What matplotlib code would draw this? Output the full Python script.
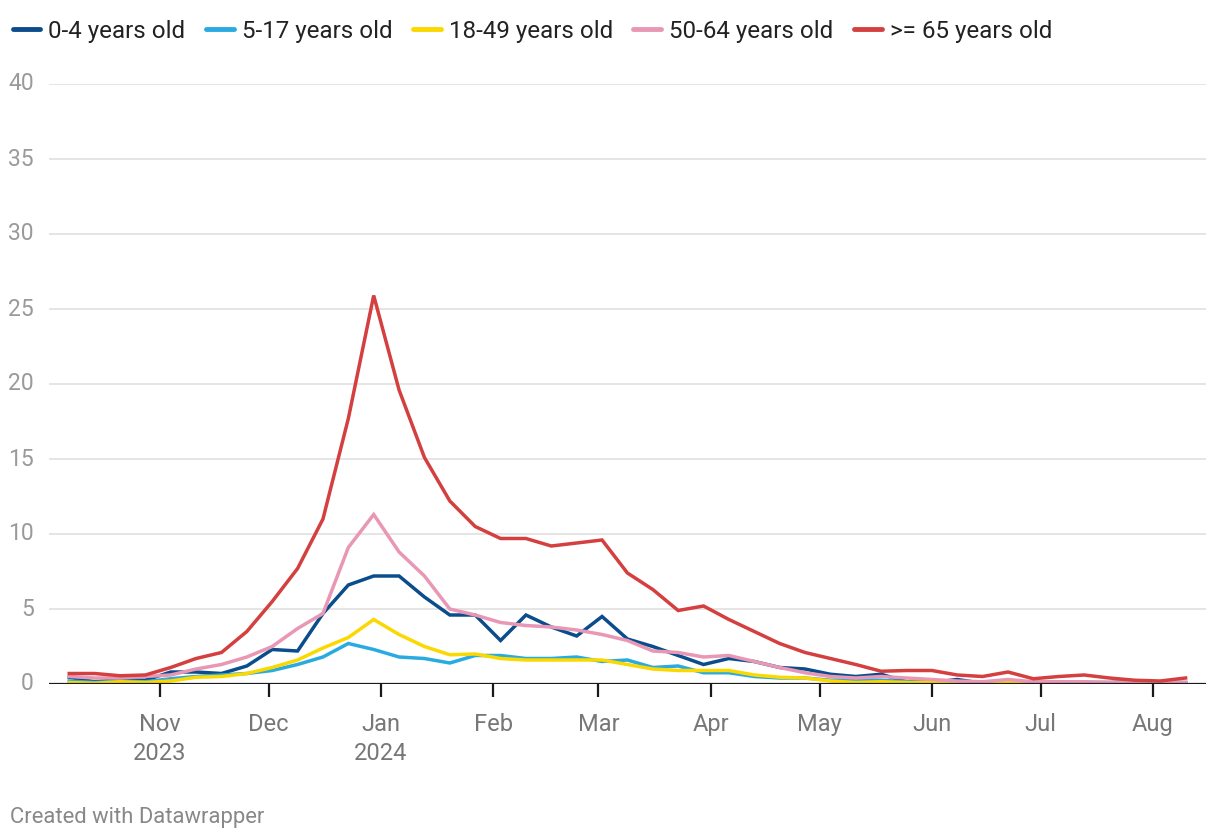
import matplotlib
matplotlib.use("Agg")
import matplotlib.pyplot as plt
import matplotlib.dates as mdates
import pandas as pd
from datetime import datetime

plt.rcParams['font.family'] = ['Roboto', 'DejaVu Sans']

dates = pd.date_range("2023-10-07", "2024-08-10", freq="7D")

age_0_4 = [0.45, 0.15, 0.3, 0.25, 0.8, 0.8, 0.7, 1.2, 2.3, 2.2, 4.7, 6.6, 7.2, 7.2, 5.8,
           4.6, 4.6, 2.9, 4.6, 3.8, 3.2, 4.5, 3.0, 2.5, 1.9, 1.3, 1.7, 1.5, 1.1, 1.0,
           0.65, 0.5, 0.65, 0.15, 0.1, 0.3, 0.05, 0.15, 0.1, 0.15, 0.1, 0.1, 0.15, 0.1, 0.1]
age_5_17 = [0.2, 0.1, 0.2, 0.15, 0.35, 0.5, 0.6, 0.7, 0.9, 1.3, 1.8, 2.7, 2.3, 1.8, 1.7,
            1.4, 1.9, 1.9, 1.7, 1.7, 1.8, 1.5, 1.6, 1.1, 1.2, 0.75, 0.75, 0.5, 0.4, 0.4,
            0.25, 0.3, 0.25, 0.15, 0.05, 0.1, 0.05, 0.05, 0.05, 0.05, 0.05, 0.05, 0.05, 0.05, 0.05]
age_18_49 = [0.1, 0.05, 0.15, 0.1, 0.2, 0.45, 0.5, 0.7, 1.1, 1.6, 2.4, 3.1, 4.3, 3.3, 2.5,
             1.95, 2.0, 1.7, 1.6, 1.6, 1.6, 1.6, 1.3, 1.0, 0.9, 0.9, 0.9, 0.6, 0.45, 0.4,
             0.2, 0.1, 0.15, 0.1, 0.1, 0.1, 0.1, 0.1, 0.1, 0.1, 0.1, 0.05, 0.05, 0.05, 0.05]
age_50_64 = [0.5, 0.4, 0.4, 0.5, 0.6, 1.0, 1.3, 1.8, 2.5, 3.7, 4.7, 9.1, 11.3, 8.8, 7.2,
             5.0, 4.6, 4.1, 3.9, 3.8, 3.6, 3.3, 2.9, 2.2, 2.1, 1.8, 1.9, 1.5, 1.1, 0.75,
             0.5, 0.4, 0.5, 0.4, 0.3, 0.2, 0.15, 0.3, 0.15, 0.15, 0.15, 0.1, 0.1, 0.1, 0.1]
age_65 = [0.7, 0.7, 0.55, 0.6, 1.1, 1.7, 2.1, 3.5, 5.5, 7.7, 11.0, 17.7, 25.9, 19.6, 15.1,
          12.2, 10.5, 9.7, 9.7, 9.2, 9.4, 9.6, 7.4, 6.3, 4.9, 5.2, 4.3, 3.5, 2.7, 2.1,
          1.7, 1.3, 0.85, 0.9, 0.9, 0.6, 0.5, 0.8, 0.35, 0.5, 0.6, 0.4, 0.25, 0.2, 0.4]

series_labels = ["0-4 years old", "5-17 years old", "18-49 years old", "50-64 years old", ">= 65 years old"]
series_values = [age_0_4, age_5_17, age_18_49, age_50_64, age_65]
colors = ["#0b4d8c", "#29abe2", "#fbd800", "#e897b4", "#d43f3f"]

y_ticks = [0, 5, 10, 15, 20, 25, 30, 35, 40]
x_tick_dates = ["2023-11-01", "2023-12-01", "2024-01-01", "2024-02-01", "2024-03-01",
                "2024-04-01", "2024-05-01", "2024-06-01", "2024-07-01", "2024-08-01"]
x_tick_labels = ["Nov\n2023", "Dec", "Jan\n2024", "Feb", "Mar", "Apr", "May", "Jun", "Jul", "Aug"]

W, H = 1220, 840
fig = plt.figure(figsize=(W / 100, H / 100), dpi=100)
ax = fig.add_axes([49 / W, 1 - 684 / H, (1206 - 49) / W, (684 - 84) / H])

for vals, lab, col in zip(series_values, series_labels, colors):
    ax.plot(dates, vals, color=col, lw=2.5, label=lab, solid_joinstyle='miter', zorder=3)

ax.set_ylim(0, 40)
ax.set_xlim(datetime(2023, 10, 1, 10), datetime(2024, 8, 15, 15))

for t in y_ticks[1:]:
    ax.axhline(t, color="#e3e3e3", lw=1.3, zorder=1)
ax.axhline(0, color="#1a1a1a", lw=1.6, zorder=4)

ax.set_yticks(y_ticks)
ax.set_yticklabels([str(t) for t in y_ticks])
ax.tick_params(axis='y', length=0, pad=11, labelsize=16.5, labelcolor="#9a9a9a")
for lbl in ax.get_yticklabels():
    lbl.set_verticalalignment('center')

ax.set_xticks(pd.to_datetime(x_tick_dates))
ax.set_xticklabels(x_tick_labels, linespacing=1.3)
ax.tick_params(axis='x', length=9, width=1.6, color="#1a1a1a", pad=12,
               labelsize=17, labelcolor="#777777")

for s in ax.spines.values():
    s.set_visible(False)

leg = fig.legend(loc='upper left', bbox_to_anchor=(-2 / W, 1 - 5 / H), ncol=5, frameon=False,
                 fontsize=17.4, handlelength=1.15, handletextpad=0.33, columnspacing=0.85,
                 borderaxespad=0.2)
for h in leg.legend_handles:
    h.set_linewidth(3.5)
    h.set_solid_capstyle('round')
for t in leg.get_texts():
    t.set_color("#222222")

fig.text(10 / W, 1 - 817 / H, "Created with Datawrapper", fontsize=15.8, color="#888888",
         va='center', ha='left')

fig.savefig("out.png", dpi=100)
